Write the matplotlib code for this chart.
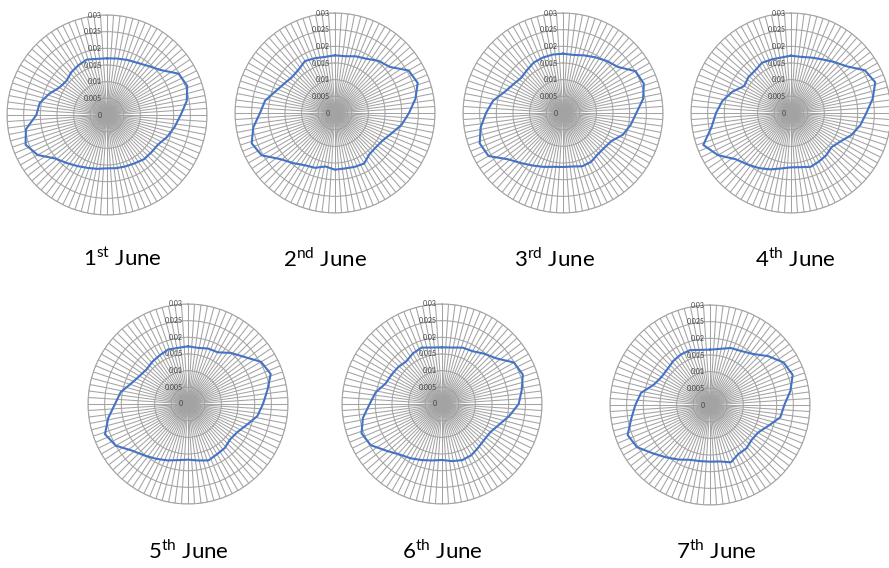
import numpy as np
import matplotlib
matplotlib.use('Agg')
import matplotlib.pyplot as plt

plt.rcParams['font.family'] = 'Lato'
plt.rcParams['mathtext.fontset'] = 'custom'
plt.rcParams['mathtext.rm'] = 'Lato'

# readings every 10 degrees, clockwise from north
directions = np.arange(0, 360, 10)

jun01 = [0.0170, 0.0172, 0.0176, 0.0181, 0.0192, 0.0210, 0.0248, 0.0256, 0.0243,
         0.0221, 0.0206, 0.0192, 0.0177, 0.0174, 0.0173, 0.0167, 0.0164, 0.0162,
         0.0160, 0.0164, 0.0169, 0.0177, 0.0188, 0.0203, 0.0240, 0.0260, 0.0247,
         0.0212, 0.0205, 0.0185, 0.0165, 0.0159, 0.0167, 0.0172, 0.0177, 0.0171]
jun02 = [0.0173, 0.0173, 0.0181, 0.0188, 0.0204, 0.0215, 0.0255, 0.0264, 0.0245,
         0.0222, 0.0203, 0.0180, 0.0165, 0.0160, 0.0161, 0.0175, 0.0172, 0.0169,
         0.0170, 0.0163, 0.0175, 0.0181, 0.0196, 0.0215, 0.0254, 0.0266, 0.0249,
         0.0225, 0.0213, 0.0190, 0.0176, 0.0168, 0.0170, 0.0180, 0.0175, 0.0171]
jun03 = [0.0178, 0.0177, 0.0184, 0.0193, 0.0204, 0.0215, 0.0251, 0.0258, 0.0244,
         0.0220, 0.0206, 0.0191, 0.0168, 0.0162, 0.0162, 0.0169, 0.0170, 0.0163,
         0.0162, 0.0164, 0.0172, 0.0182, 0.0196, 0.0216, 0.0258, 0.0266, 0.0251,
         0.0231, 0.0213, 0.0186, 0.0172, 0.0164, 0.0168, 0.0175, 0.0177, 0.0178]
jun04 = [0.0172, 0.0171, 0.0177, 0.0186, 0.0200, 0.0218, 0.0256, 0.0269, 0.0249,
         0.0226, 0.0211, 0.0193, 0.0171, 0.0159, 0.0165, 0.0168, 0.0172, 0.0165,
         0.0163, 0.0169, 0.0180, 0.0191, 0.0202, 0.0216, 0.0253, 0.0280, 0.0242,
         0.0225, 0.0209, 0.0187, 0.0162, 0.0167, 0.0167, 0.0174, 0.0171, 0.0169]
jun05 = [0.0173, 0.0171, 0.0177, 0.0179, 0.0200, 0.0220, 0.0253, 0.0264, 0.0242,
         0.0225, 0.0211, 0.0186, 0.0170, 0.0165, 0.0172, 0.0174, 0.0180, 0.0172,
         0.0167, 0.0171, 0.0180, 0.0190, 0.0202, 0.0218, 0.0250, 0.0265, 0.0243,
         0.0219, 0.0205, 0.0181, 0.0168, 0.0162, 0.0166, 0.0169, 0.0174, 0.0171]
jun06 = [0.0170, 0.0172, 0.0180, 0.0183, 0.0197, 0.0213, 0.0249, 0.0258, 0.0243,
         0.0230, 0.0205, 0.0182, 0.0168, 0.0166, 0.0170, 0.0177, 0.0179, 0.0174,
         0.0168, 0.0172, 0.0179, 0.0188, 0.0198, 0.0218, 0.0247, 0.0257, 0.0241,
         0.0217, 0.0202, 0.0180, 0.0175, 0.0172, 0.0167, 0.0175, 0.0180, 0.0172]
jun07 = [0.0166, 0.0171, 0.0182, 0.0187, 0.0200, 0.0228, 0.0255, 0.0264, 0.0245,
         0.0223, 0.0214, 0.0185, 0.0166, 0.0163, 0.0170, 0.0170, 0.0183, 0.0172,
         0.0170, 0.0171, 0.0175, 0.0189, 0.0205, 0.0225, 0.0253, 0.0263, 0.0240,
         0.0224, 0.0210, 0.0179, 0.0168, 0.0167, 0.0172, 0.0175, 0.0175, 0.0168]

series = [jun01, jun02, jun03, jun04, jun05, jun06, jun07]
days = [r'1$^{\rm st}$ June', r'2$^{\rm nd}$ June', r'3$^{\rm rd}$ June', r'4$^{\rm th}$ June',
        r'5$^{\rm th}$ June', r'6$^{\rm th}$ June', r'7$^{\rm th}$ June']

ring_values = [0, 0.005, 0.01, 0.015, 0.02, 0.025, 0.03]
ring_labels = ['0', '0.005', '0.01', '0.015', '0.02', '0.025', '0.03']

W, H = 889, 568
R = 100
centres = [(107, 115), (335, 113), (563, 113), (791, 113),
           (188, 404), (442, 404), (710, 405)]
title_pos = [(122, 259), (325, 259), (554, 259), (795, 259),
             (188, 551), (442, 551), (716, 551)]

grid_col = '#a3a3a3'
line_col = '#4472c4'
n_spokes = 96

fig = plt.figure(figsize=(W / 100, H / 100), dpi=100)

for vals, (cx, cy), day, (tx, ty) in zip(series, centres, days, title_pos):
    ax = fig.add_axes([(cx - R) / W, (H - cy - R) / H, 2 * R / W, 2 * R / H],
                      projection='polar')
    ax.set_theta_zero_location('N')
    ax.set_theta_direction(-1)
    ax.set_ylim(0, 0.03)
    ax.set_yticks(ring_values[1:])
    ax.set_yticklabels([])
    ax.set_xticks(np.linspace(0, 2 * np.pi, n_spokes, endpoint=False))
    ax.set_xticklabels([])
    ax.tick_params(length=0)
    ax.grid(True, color=grid_col, lw=0.75)
    ax.spines['polar'].set_color(grid_col)
    ax.spines['polar'].set_linewidth(0.75)

    theta = np.deg2rad(np.append(directions, directions[0]))
    r = np.append(vals, vals[0])
    ax.plot(theta, r, color=line_col, lw=1.5, zorder=5)

    for rv, lab in zip(ring_values, ring_labels):
        ax.annotate(lab, xy=(0, rv), xytext=(-4, 0), textcoords='offset points',
                    ha='right', va='center', fontsize=5, color='#404040',
                    annotation_clip=False)

    fig.text(tx / W, 1 - ty / H, day, ha='center', va='center', fontsize=16)

fig.savefig('out.png', dpi=100)
